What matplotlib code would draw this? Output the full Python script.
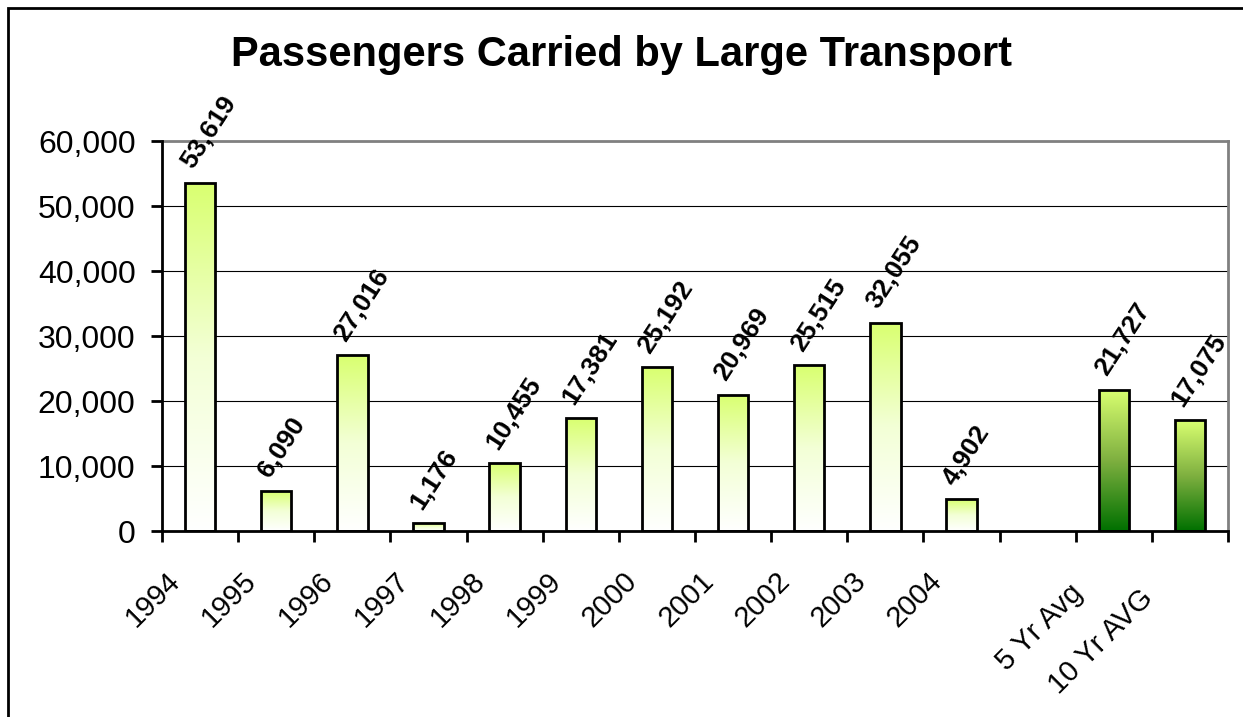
import numpy as np
import matplotlib
matplotlib.use("Agg")
import matplotlib.pyplot as plt
from matplotlib.colors import LinearSegmentedColormap
from matplotlib.patches import Rectangle
from matplotlib.ticker import FuncFormatter, FixedLocator
from matplotlib.transforms import ScaledTranslation

plt.rcParams['font.family'] = ['Liberation Sans', 'DejaVu Sans']

# passengers per year, then an empty slot, then the two averages
categories = ['1994', '1995', '1996', '1997', '1998', '1999', '2000',
              '2001', '2002', '2003', '2004', '', '5 Yr Avg  ', '10 Yr AVG   ']
passengers = [53619, 6090, 27016, 1176, 10455, 17381, 25192,
              20969, 25515, 32055, 4902, 0, 21727, 17075]
is_average = [False] * 12 + [True, True]

year_cmap = LinearSegmentedColormap.from_list('yr', ['#ffffff', '#f3ffd6', '#d9ff70'])
avg_cmap = LinearSegmentedColormap.from_list('avg', ['#007000', '#7fb040', '#d9ff70'])

fig = plt.figure(figsize=(12.43, 7.17), dpi=100)
ax = fig.add_axes([0.1303, 0.2594, 0.8577, 0.5439])

x = np.arange(len(categories))
bars = ax.bar(x, passengers, width=0.4, color='none', edgecolor='black',
              linewidth=2, zorder=3)

# vertical gradient inside each bar
grad = np.linspace(0, 1, 256).reshape(-1, 1)
for b, v, avg in zip(bars, passengers, is_average):
    if v == 0:
        b.set_visible(False)
        continue
    x0, w = b.get_x(), b.get_width()
    im = ax.imshow(grad, cmap=avg_cmap if avg else year_cmap, origin='lower',
                   extent=(x0, x0 + w, 0, v), aspect='auto', zorder=2)
    im.set_clip_path(b)

# rotated value labels above bars
for i, v in enumerate(passengers):
    if v == 0:
        continue
    ax.annotate(f'{v:,}', xy=(i, v), xytext=(-5, 9), textcoords='offset points',
                rotation=57, rotation_mode='anchor', ha='left', va='baseline',
                fontsize=19, fontweight='bold', zorder=4)

ax.set_xlim(-0.5, len(categories) - 0.5)
ax.set_ylim(0, 60000)
ax.set_yticks(np.arange(0, 60001, 10000))
ax.yaxis.set_major_formatter(FuncFormatter(lambda v, p: f'{int(v):,}'))
ax.tick_params(axis='y', labelsize=23, length=8, width=2, direction='out', pad=11)

# category labels at bar centres, tick marks on category boundaries
ax.set_xticks(x)
ax.set_xticklabels(categories, rotation=45, ha='right', va='center',
                   rotation_mode='anchor', fontsize=21)
ax.tick_params(axis='x', which='major', length=0, pad=0)
ax.xaxis.set_minor_locator(FixedLocator(np.arange(-0.5, len(categories), 1)))
ax.tick_params(axis='x', which='minor', length=8, width=2, direction='out')
shift = ScaledTranslation(-24 / 100, -46 / 100, fig.dpi_scale_trans)
for lab in ax.get_xticklabels():
    lab.set_transform(lab.get_transform() + shift)

ax.yaxis.grid(True, color='black', linewidth=0.8, zorder=1)
ax.set_axisbelow(True)
for side in ['left', 'bottom']:
    ax.spines[side].set_linewidth(2)
    ax.spines[side].set_zorder(5)
for side in ['top', 'right']:
    ax.spines[side].set_color('#808080')
    ax.spines[side].set_linewidth(2)

fig.text(0.5, 0.923, 'Passengers Carried by Large Transport', ha='center',
         va='center', fontsize=30, fontweight='bold')

# outer chart-area border
fig.patches.append(Rectangle((8 / 1243, -0.05), 1.2, 1 - 8 / 717 + 0.05,
                             transform=fig.transFigure, fill=False,
                             edgecolor='black', linewidth=2))

fig.savefig('out.png', dpi=100)
